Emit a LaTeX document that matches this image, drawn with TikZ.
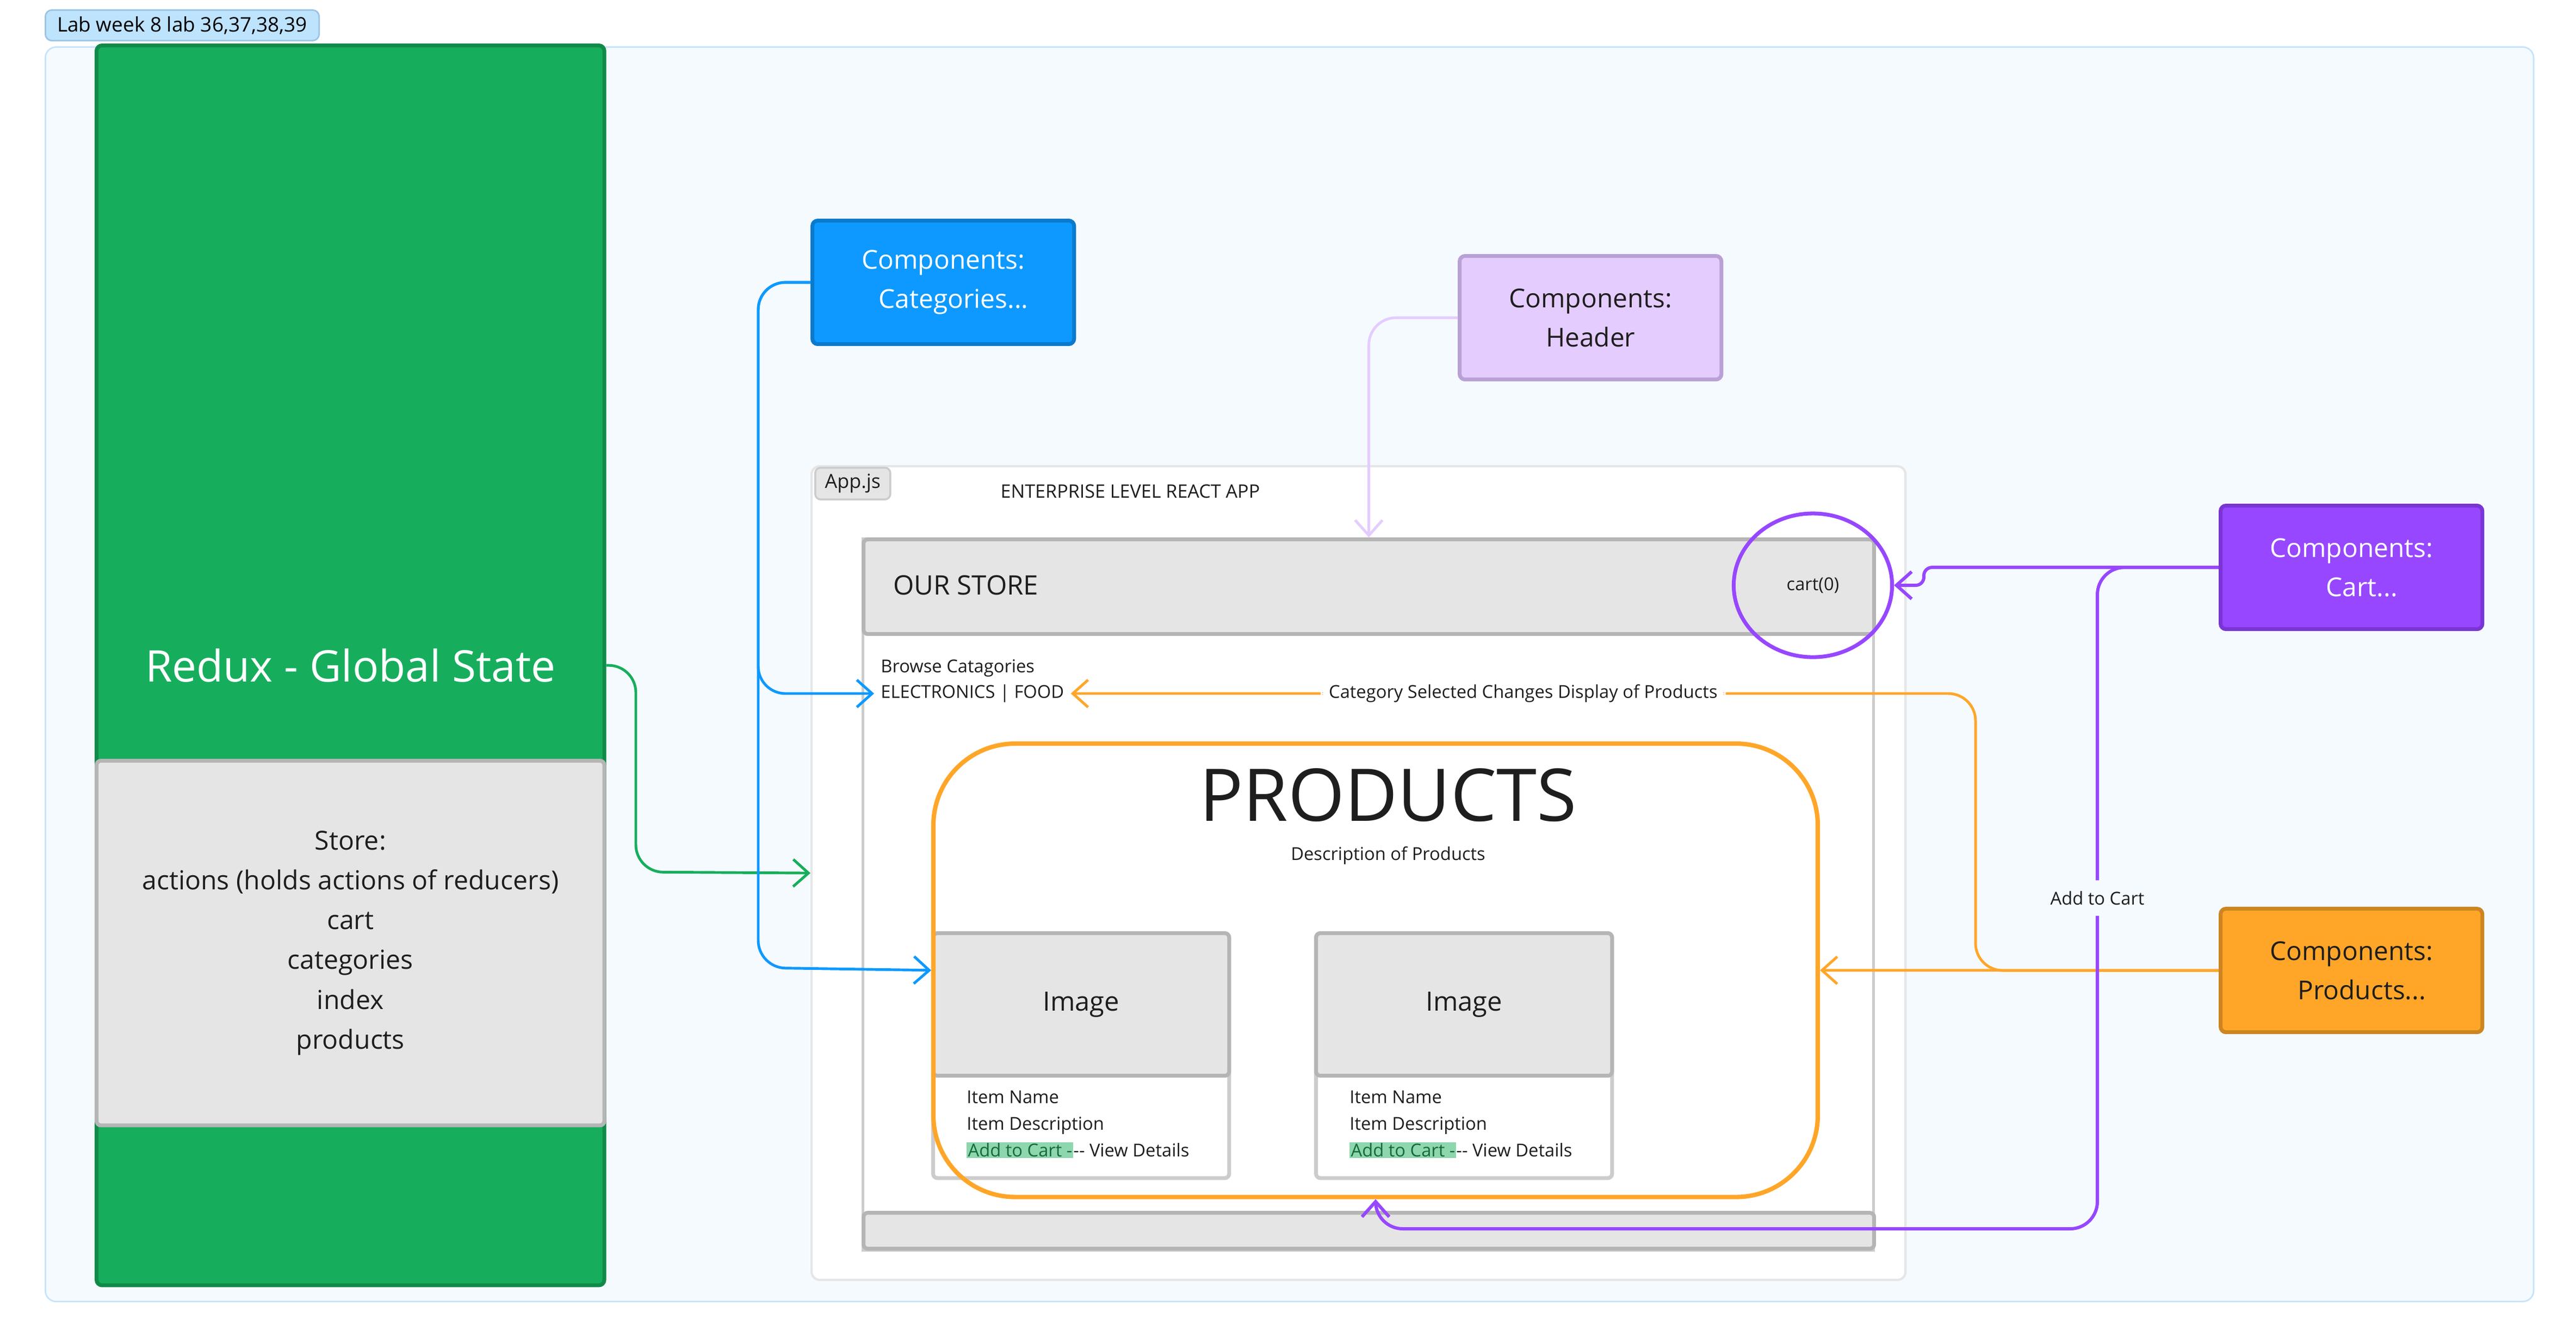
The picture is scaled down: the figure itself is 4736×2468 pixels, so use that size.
\documentclass[tikz,border=0pt]{standalone}
\usepackage{fontspec}
\setmainfont{Open Sans}
\usetikzlibrary{shapes.geometric,arrows.meta,positioning,calc}
\definecolor{boardfill}{HTML}{F5FAFF}
\definecolor{boardline}{HTML}{C6E4FB}
\definecolor{labfill}{HTML}{BEE3FD}
\definecolor{labline}{HTML}{9CC4E4}
\definecolor{reduxgreen}{HTML}{16AE5C}
\definecolor{reduxline}{HTML}{118A49}
\definecolor{barfill}{HTML}{E5E5E5}
\definecolor{barline}{HTML}{B5B5B5}
\definecolor{frameline}{HTML}{CCCCCC}
\definecolor{appline}{HTML}{E6E6E6}
\definecolor{catblue}{HTML}{0D99FF}
\definecolor{catline}{HTML}{0A7ACC}
\definecolor{hdrfill}{HTML}{E4CCFF}
\definecolor{hdrline}{HTML}{B9A1D6}
\definecolor{cartpurple}{HTML}{9747FF}
\definecolor{cartline}{HTML}{7A35D4}
\definecolor{prodorange}{HTML}{FFA629}
\definecolor{prodline}{HTML}{CC8521}
\definecolor{addgreen}{HTML}{8ED6AD}
\definecolor{addtext}{HTML}{146B3A}
\definecolor{ink}{HTML}{1E1E1E}

\begin{document}
\begin{tikzpicture}[x=0.01cm, y=-0.01cm,
  box/.style={draw, line width=2pt, rounded corners=0.1cm, anchor=north west, align=center,
    minimum width=4.81cm, minimum height=2.27cm, font=\fontsize{13.6}{20.5}\selectfont},
  graybox/.style={draw=barline, fill=barfill, line width=2pt, rounded corners=0.08cm, anchor=north west},
  small/.style={text=ink, font=\fontsize{9.3}{13.9}\selectfont},
  conn/.style={line width=1.4pt, rounded corners=0.5cm, -{Straight Barb[length=0.28cm,width=0.5cm]}}]
\useasboundingbox (0,0) rectangle (4736,2468);

% Board and its label
\node[draw=boardline, fill=boardfill, line width=0.8pt, rounded corners=0.2cm, anchor=north west,
  minimum width=45.72cm, minimum height=23.05cm] (board) at (82,85) {};
\node[draw=labline, fill=labfill, line width=0.8pt, rounded corners=0.12cm, anchor=north west,
  minimum width=5.03cm, minimum height=0.54cm, text=black, font=\fontsize{10.5}{12}\selectfont] (lab) at (82,17) {Lab week 8 lab 36,37,38,39};

% Redux column
\node[draw=reduxline, fill=reduxgreen, line width=2pt, rounded corners=0.1cm, anchor=north west,
  minimum width=9.33cm, minimum height=22.78cm, text=white, font=\fontsize{22.8}{26}\selectfont] (redux) at (174,80) {Redux - Global State};
\node[graybox, minimum width=9.33cm, minimum height=6.70cm, align=center, text=ink,
  font=\fontsize{13.7}{20.8}\selectfont] (store) at (174,1395)
  {Store:\\actions (holds actions of reducers)\\cart\\categories\\index\\products};

% App.js frame
\node[draw=appline, fill=white, line width=1.2pt, rounded corners=0.15cm, anchor=north west,
  minimum width=20.10cm, minimum height=14.95cm] (app) at (1490,855) {};
\node[draw=frameline, fill=barfill, line width=1pt, rounded corners=0.1cm, anchor=north west,
  minimum width=1.38cm, minimum height=0.55cm, text=ink, font=\fontsize{10.2}{12}\selectfont] (appjs) at (1497,858) {App.js};
\node[small, font=\fontsize{9.7}{12}\selectfont] (title) at (2078,903) {ENTERPRISE LEVEL REACT APP};

% Store wireframe
\node[draw=frameline, fill=white, line width=1.5pt, anchor=north west,
  minimum width=18.57cm, minimum height=13.07cm] (body) at (1584,988) {};
\node[graybox, minimum width=18.57cm, minimum height=1.74cm] (ourbar) at (1584,988) {};
\node[anchor=west, text=ink, font=\fontsize{14}{16}\selectfont] (storename) at (1630,1076) {OUR STORE};
\node[ellipse, draw=cartpurple, line width=2pt, minimum width=2.91cm, minimum height=2.64cm, small] (cartring) at (3333,1076) {cart(0)};
\node[graybox, minimum width=18.57cm, minimum height=0.66cm] (footer) at (1584,2226) {};
\node[small, anchor=west] (browse) at (1607,1228) {Browse Catagories};
\node[small, anchor=west] (elec) at (1607,1275) {ELECTRONICS | FOOD};

% Product cards
\foreach \cx/\cn in {1712/1, 2416/2} {
  \node[draw=frameline, fill=white, line width=2pt, rounded corners=0.08cm, anchor=north west,
    minimum width=5.44cm, minimum height=4.50cm] (card\cn) at (\cx,1712) {};
  \node[graybox, minimum width=5.44cm, minimum height=2.62cm, text=ink,
    font=\fontsize{13.9}{15}\selectfont] (img\cn) at (\cx,1712) {Image};
  \node[small, anchor=north west, align=left] (info\cn) at (\cx+53,1993)
    {Item Name\\Item Description\\{\setlength{\fboxsep}{0.6pt}\colorbox{addgreen}{\textcolor{addtext}{Add to Cart -}}}-{}- View Details};
}

% Products frame
\node[draw=prodorange, line width=2.3pt, rounded corners=1.5cm, anchor=north west,
  minimum width=16.25cm, minimum height=8.33cm] (prodframe) at (1712,1363) {};
\node[text=ink, font=\fontsize{38}{40}\selectfont] (prodtitle) at (2552,1462) {PRODUCTS};
\node[small] (proddesc) at (2552,1573) {Description of Products};

% Component boxes
\node[box, draw=catline, fill=catblue, text=white] (cats) at (1490,402) {Components:\\\hspace*{0.38cm}Categories...};
\node[box, draw=hdrline, fill=hdrfill, text=ink] (header) at (2680,467) {Components:\\Header};
\node[box, draw=cartline, fill=cartpurple, text=white] (cart) at (4079,926) {Components:\\\hspace*{0.38cm}Cart...};
\node[box, draw=prodline, fill=prodorange, text=ink] (prods) at (4079,1667) {Components:\\\hspace*{0.38cm}Products...};

% Connectors
\draw[conn, reduxgreen] (redux.east) -| (1169,1603) -- (app.west);
\draw[conn, catblue] (cats.west) -| (1394,1275) -- (elec.west);
\draw[conn, catblue] (cats.west) -| (1394,1779) -- (prodframe.west);
\draw[conn, hdrfill] (header.west) -| (ourbar.north);
\draw[conn, prodorange] (prods.west) -- (prodframe.east);
\draw[conn, prodorange] (prods.west) -| (3632,1275)
  -- node[fill=white, small, inner sep=0.15cm] {Category Selected Changes Display of Products} (elec.east);
\draw[conn, cartpurple, line width=1.7pt, rounded corners=0.15cm] (cart.west) -| (3537,1076) -- (cartring.east);
\draw[conn, cartpurple, line width=1.7pt] (cart.west) -| node[pos=0.75, fill=boardfill, small, inner sep=0.2cm] {Add to Cart} (3856,2259) -| (prodframe.south);
\end{tikzpicture}
\end{document}
